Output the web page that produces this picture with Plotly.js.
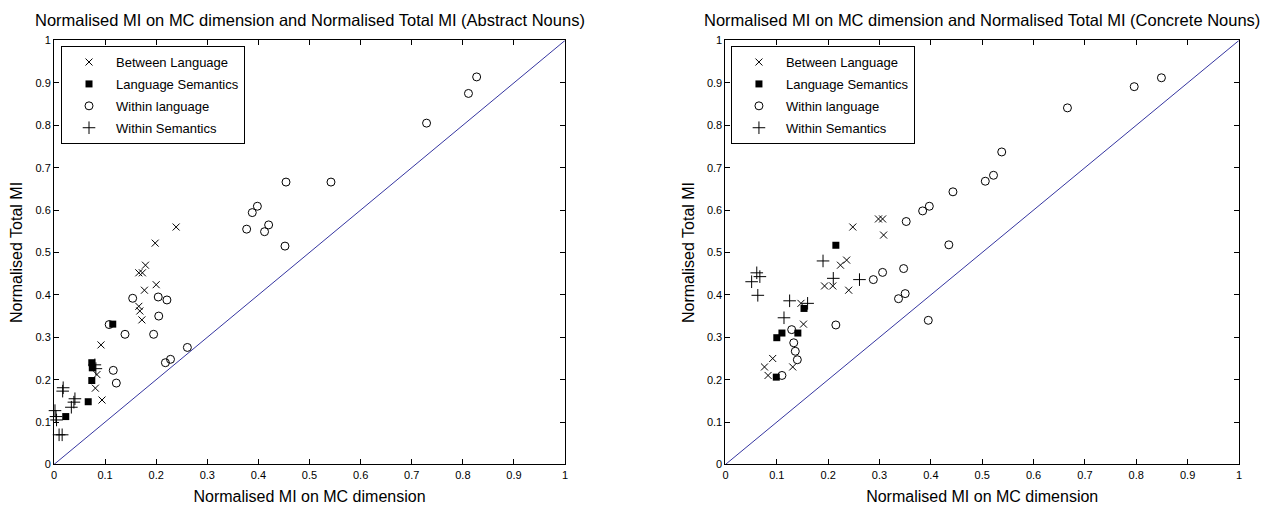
<!DOCTYPE html>
<html><head><meta charset="utf-8">
<script src="https://cdn.plot.ly/plotly-3.0.1.min.js"></script>
<style>html,body{margin:0;padding:0;background:#fff}#chart{width:1279px;height:512px}</style>
</head><body><div id="chart"></div>
<script>
// ---- data: Abstract Nouns (left) ----
const absBetweenX = [0.239,0.198,0.179,0.166,0.173,0.200,0.177,0.166,0.168,0.172,0.092,0.084,0.081,0.094];
const absBetweenY = [0.560,0.522,0.470,0.452,0.452,0.424,0.411,0.373,0.362,0.341,0.282,0.212,0.180,0.152];
const absLangSemX = [0.115,0.074,0.075,0.074,0.067,0.023];
const absLangSemY = [0.331,0.240,0.228,0.198,0.148,0.113];
const absWithinLangX = [0.827,0.811,0.729,0.454,0.542,0.398,0.388,0.420,0.377,0.412,0.452,0.154,0.204,0.221,0.205,0.108,0.139,0.195,0.116,0.122,0.218,0.228,0.261];
const absWithinLangY = [0.914,0.875,0.805,0.666,0.666,0.609,0.594,0.565,0.555,0.549,0.515,0.392,0.395,0.388,0.350,0.330,0.307,0.307,0.222,0.192,0.240,0.248,0.276];
const absWithinSemX = [0.018,0.017,0.041,0.039,0.034,0.002,0.004,0.005,0.010,0.016,0.080,0.082];
const absWithinSemY = [0.181,0.173,0.155,0.147,0.135,0.127,0.113,0.105,0.070,0.070,0.235,0.226];
// ---- data: Concrete Nouns (right) ----
const conBetweenX = [0.248,0.298,0.306,0.308,0.236,0.224,0.193,0.209,0.240,0.147,0.152,0.092,0.076,0.083,0.131];
const conBetweenY = [0.560,0.579,0.579,0.541,0.482,0.470,0.421,0.421,0.411,0.380,0.331,0.250,0.230,0.210,0.230];
const conLangSemX = [0.215,0.153,0.141,0.110,0.100,0.099];
const conLangSemY = [0.517,0.368,0.310,0.310,0.299,0.206];
const conWithinLangX = [0.849,0.796,0.666,0.538,0.522,0.506,0.443,0.397,0.384,0.352,0.435,0.347,0.306,0.288,0.350,0.337,0.395,0.215,0.129,0.133,0.136,0.140,0.110];
const conWithinLangY = [0.912,0.891,0.841,0.737,0.682,0.668,0.643,0.609,0.598,0.573,0.518,0.462,0.453,0.436,0.403,0.391,0.340,0.329,0.318,0.287,0.267,0.247,0.210];
const conWithinSemX = [0.061,0.067,0.051,0.063,0.125,0.114,0.160,0.190,0.210,0.261];
const conWithinSemY = [0.452,0.443,0.431,0.399,0.386,0.346,0.380,0.480,0.439,0.436];
// reference diagonal and ticks
const diagX = [0, 1];
const diagY = [0, 1];
const tickVals = [0,0.1,0.2,0.3,0.4,0.5,0.6,0.7,0.8,0.9,1];
const tickText = ["0","0.1","0.2","0.3","0.4","0.5","0.6","0.7","0.8","0.9","1"];
const seriesNames = ["Between Language","Language Semantics","Within language","Within Semantics"];
const titles = ["Normalised MI on MC dimension and Normalised Total MI (Abstract Nouns)",
                "Normalised MI on MC dimension and Normalised Total MI (Concrete Nouns)"];
const xTitle = "Normalised MI on MC dimension";
const yTitle = "Normalised Total MI";

const FONT = "Liberation Sans, Arial, sans-serif";
const styles = [
  {symbol:"x-thin-open", size:7, line:{width:1,color:"#000"}, color:"#000"},
  {symbol:"square", size:7, line:{width:0}, color:"#000"},
  {symbol:"circle-open", size:8, line:{width:1,color:"#000"}, color:"#000"},
  {symbol:"cross-thin-open", size:9, line:{width:1,color:"#000"}, color:"#000"}
];
function sc(x,y,i,xa,ya,leg){
  return {type:"scatter",mode:"markers",x:x,y:y,name:seriesNames[i],marker:styles[i],
    xaxis:xa,yaxis:ya,legend:leg,legendgroup:leg+"_"+i,cliponaxis:false};
}
const data = [
  {type:"scatter",mode:"lines",x:diagX,y:diagY,line:{color:"#3535a0",width:1},showlegend:false,xaxis:"x",yaxis:"y"},
  sc(absBetweenX,absBetweenY,0,"x","y","legend"),
  sc(absLangSemX,absLangSemY,1,"x","y","legend"),
  sc(absWithinLangX,absWithinLangY,2,"x","y","legend"),
  sc(absWithinSemX,absWithinSemY,3,"x","y","legend"),
  {type:"scatter",mode:"lines",x:diagX,y:diagY,line:{color:"#3535a0",width:1},showlegend:false,xaxis:"x2",yaxis:"y2"},
  sc(conBetweenX,conBetweenY,0,"x2","y2","legend2"),
  sc(conLangSemX,conLangSemY,1,"x2","y2","legend2"),
  sc(conWithinLangX,conWithinLangY,2,"x2","y2","legend2"),
  sc(conWithinSemX,conWithinSemY,3,"x2","y2","legend2")
];
function ax(domain, anchor, isX){
  return {domain:domain, anchor:anchor, range:[0,1], tickvals:tickVals, ticktext:tickText,
    ticks:"inside", ticklen:5, tickwidth:1, tickcolor:"#000", showline:true, linecolor:"#000", linewidth:1,
    mirror:"ticks", showgrid:false, zeroline:false, tickfont:{family:FONT,size:11,color:"#000"},
    title:{text:isX?xTitle:yTitle, font:{family:FONT,size:16,color:"#000"}, standoff:isX?11:8},
    fixedrange:true};
}
const yd = [0.0928, 0.921];
const legendBase = {bgcolor:"#fff", bordercolor:"#000", borderwidth:1, font:{family:FONT,size:13,color:"#000"},
  xanchor:"left", yanchor:"top", y:0.910, itemwidth:44, traceorder:"grouped", tracegroupgap:2};
const layout = {
  width:1279, height:512, paper_bgcolor:"#fff", plot_bgcolor:"#fff",
  margin:{l:0,r:0,t:0,b:0}, showlegend:true,
  xaxis: ax([0.0422,0.4418],"y",true),
  yaxis: ax(yd,"x",false),
  xaxis2: ax([0.5672,0.9687],"y2",true),
  yaxis2: ax(yd,"x2",false),
  legend: Object.assign({}, legendBase, {x:0.0477}),
  legend2: Object.assign({}, legendBase, {x:0.5715}),
  annotations: [
    {text:titles[0], xref:"paper", yref:"paper", x:0.242, y:0.961, xanchor:"center", yanchor:"middle", showarrow:false, font:{family:FONT,size:16.5,color:"#000"}},
    {text:titles[1], xref:"paper", yref:"paper", x:0.768, y:0.961, xanchor:"center", yanchor:"middle", showarrow:false, font:{family:FONT,size:16.5,color:"#000"}}
  ]
};
Plotly.newPlot("chart", data, layout, {displayModeBar:false, staticPlot:true});
</script></body></html>
